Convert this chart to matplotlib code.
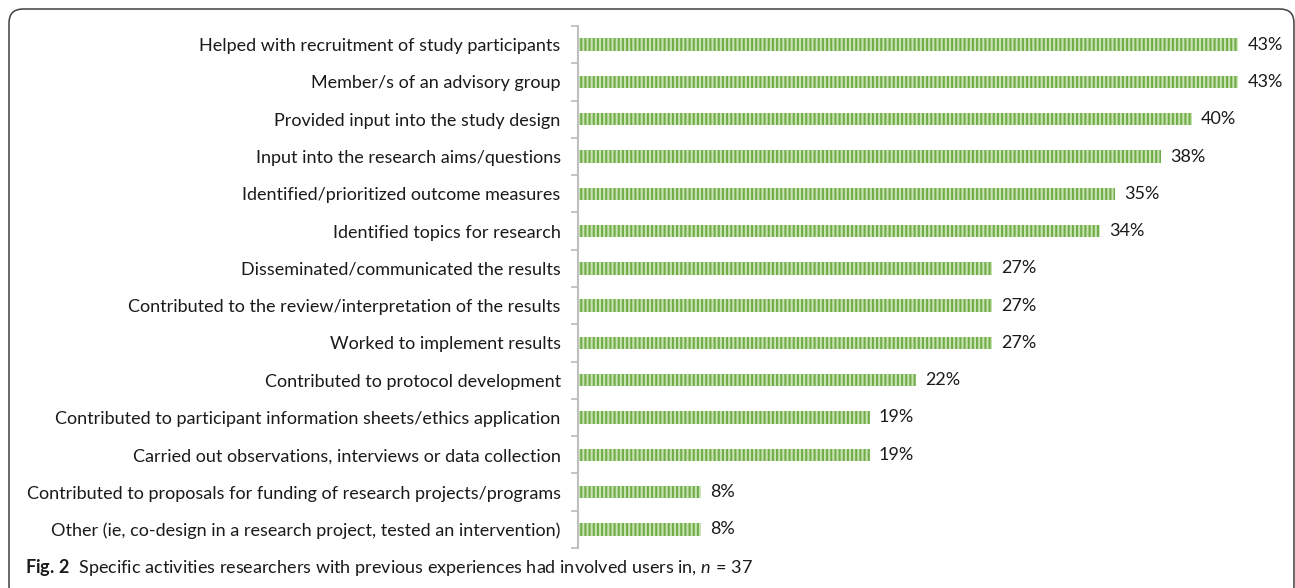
import matplotlib
matplotlib.use("Agg")
import matplotlib.pyplot as plt
from matplotlib.patches import FancyBboxPatch
from matplotlib.transforms import IdentityTransform
import numpy as np

categories = [
    "Helped with recruitment of study participants",
    "Member/s of an advisory group",
    "Provided input into the study design",
    "Input into the research aims/questions",
    "Identified/prioritized outcome measures",
    "Identified topics for research",
    "Disseminated/communicated the results",
    "Contributed to the review/interpretation of the results",
    "Worked to implement results",
    "Contributed to protocol development",
    "Contributed to participant information sheets/ethics application",
    "Carried out observations, interviews or data collection",
    "Contributed to proposals for funding of research projects/programs",
    "Other (ie, co-design in a research project, tested an intervention)",
]
values = [43, 43, 40, 38, 35, 34, 27, 27, 27, 22, 19, 19, 8, 8]
value_labels = ["43%", "43%", "40%", "38%", "35%", "34%", "27%", "27%", "27%",
                "22%", "19%", "19%", "8%", "8%"]

plt.rcParams['font.family'] = ['Lato', 'DejaVu Sans']
plt.rcParams['hatch.linewidth'] = 1.5
plt.rcParams['hatch.color'] = '#70AD47'
plt.rcParams['mathtext.fontset'] = 'custom'
plt.rcParams['mathtext.rm'] = 'Lato'
plt.rcParams['mathtext.it'] = 'Lato:italic'
plt.rcParams['mathtext.bf'] = 'Lato:bold'

W, H = 1295, 588
fig = plt.figure(figsize=(W / 100, H / 100), dpi=100)

ax_left, ax_right, ax_top, ax_bottom = 578, 1285, 26, 548
ax = fig.add_axes([ax_left / W, (H - ax_bottom) / H,
                   (ax_right - ax_left) / W, (ax_bottom - ax_top) / H])

n = len(categories)
y = np.arange(n)
ax.barh(y, values, height=0.33, color='#C9E3B5', edgecolor='#70AD47',
        hatch='||||', linewidth=0)
ax.set_ylim(n - 0.5, -0.5)
ax.set_xlim(0, (ax_right - ax_left) / 15.35)

for yi, v, lab in zip(y, values, value_labels):
    ax.text(v + 0.6, yi, lab, va='center', ha='left', fontsize=13, color='#1a1a1a')

ax.set_yticks(y)
ax.set_yticklabels(categories, fontsize=13, color='#1a1a1a')
ax.tick_params(axis='y', which='major', length=0, pad=12.5)
ax.set_yticks(np.arange(-0.5, n, 1), minor=True)
ax.tick_params(axis='y', which='minor', length=5, width=1.3, color='#BFBFBF')
ax.set_xticks([])
for s in ['top', 'right', 'bottom']:
    ax.spines[s].set_visible(False)
ax.spines['left'].set_color('#BFBFBF')
ax.spines['left'].set_linewidth(1.5)

# border
border = FancyBboxPatch((9, -12), 1285, H - 9 + 12,
                        boxstyle="round,pad=0,rounding_size=14",
                        transform=IdentityTransform(), fill=False,
                        edgecolor='#404040', linewidth=1.1)
fig.patches.append(border)

# caption
caption = (r"$\mathbf{Fig.\,2}$  Specific activities researchers with previous "
           r"experiences had involved users in, $n\,=\,37$")
fig.text(25 / W, (H - 568) / H, caption, fontsize=13, va='center', ha='left',
         color='#1a1a1a')

fig.savefig("out.png", dpi=100)
